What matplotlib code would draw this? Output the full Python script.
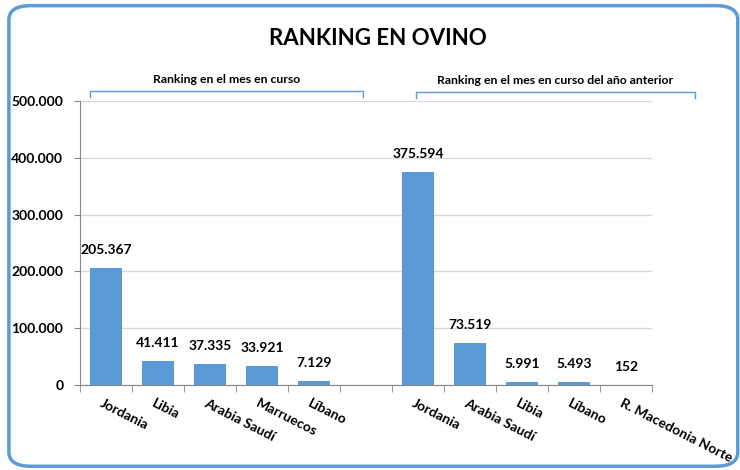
import numpy as np
import matplotlib.pyplot as plt
from matplotlib.patches import FancyBboxPatch

plt.rcParams['font.family'] = ['Lato', 'DejaVu Sans']

# datos
paises_actual = ["Jordania", "Libia", "Arabia Saudí", "Marruecos", "Líbano"]
valores_actual = [205367, 41411, 37335, 33921, 7129]
paises_anterior = ["Jordania", "Arabia Saudí", "Libia", "Líbano", "R. Macedonia Norte"]
valores_anterior = [375594, 73519, 5991, 5493, 152]
yticks = [0, 100000, 200000, 300000, 400000, 500000]

azul = "#5B9BD5"

def fmt(v):
    return f"{v:,.0f}".replace(",", ".")

fig = plt.figure(figsize=(7.4, 4.7), dpi=100)

# marco redondeado
marco = FancyBboxPatch((0.012, 0.008), 0.985, 0.98, boxstyle="round,pad=0,rounding_size=0.03",
                       transform=fig.transFigure, fill=False, edgecolor=azul, linewidth=2.5)
fig.patches.append(marco)

ax = fig.add_axes([0.108, 0.181, 0.773, 0.604])

etiquetas = paises_actual + [""] + paises_anterior
valores = valores_actual + [None] + valores_anterior
x = np.arange(len(etiquetas))

for xi, v in zip(x, valores):
    if v is None:
        continue
    ax.bar(xi, v, width=0.62, color=azul, zorder=3)
    ax.text(xi, v + 21000, fmt(v), ha='center', va='bottom', fontsize=10, fontweight='bold')

ax.set_xlim(-0.5, len(etiquetas) - 0.5)
ax.set_ylim(0, 500000)
ax.set_yticks(yticks)
ax.set_yticklabels([fmt(t) for t in yticks], fontsize=10, fontweight='bold')
ax.grid(axis='y', color='#d9d9d9', linewidth=1, zorder=0)
ax.set_xticks(np.arange(len(etiquetas) + 1) - 0.5, minor=True)
ax.tick_params(axis='x', which='minor', length=5, color='#888888')
ax.set_xticks(x)
ax.set_xticklabels([])
ax.tick_params(axis='x', which='major', length=0)
ax.tick_params(axis='y', length=4, color='#888888', pad=8)
for s in ['top', 'right']:
    ax.spines[s].set_visible(False)
ax.spines['left'].set_color('#888888')
ax.spines['bottom'].set_color('#888888')

for xi, lab in zip(x, etiquetas):
    if lab:
        ax.text(xi - 0.05, -22000, lab, rotation=-27, rotation_mode='anchor',
                ha='left', va='top', fontsize=10, fontweight='bold')

fig.text(0.511, 0.918, "RANKING EN OVINO", ha='center', va='center', fontsize=16, fontweight='bold')

# corchetes de grupo
def corchete(x0, x1, y, texto):
    yb = y - 0.013
    fig.add_artist(plt.Line2D([x0, x0, x1, x1], [yb, y, y, yb], transform=fig.transFigure,
                              color=azul, linewidth=1))
    fig.text((x0 + x1) / 2, y + 0.024, texto, ha='center', va='center', fontsize=8.8, fontweight='bold')

corchete(90 / 740, 363 / 740, 1 - 91 / 470, "Ranking en el mes en curso")
corchete(416 / 740, 695 / 740, 1 - 92 / 470, "Ranking en el mes en curso del año anterior")

fig.savefig("out.png", dpi=100)
